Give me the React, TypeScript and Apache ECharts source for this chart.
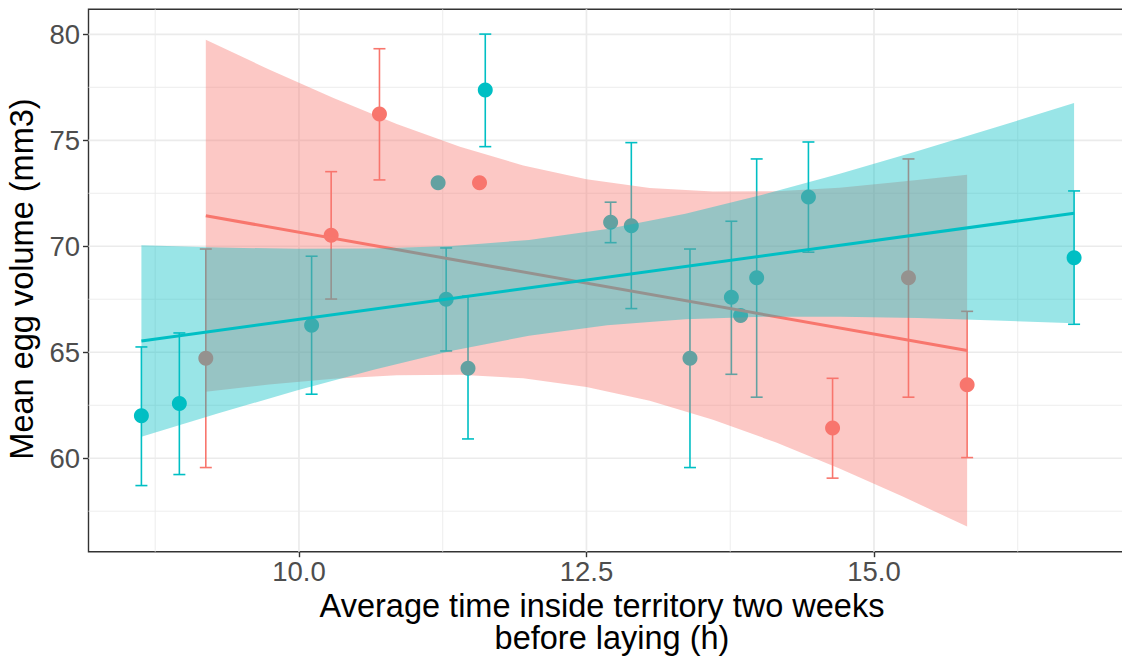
import React, { useEffect, useRef } from "react";
import * as echarts from "echarts";

// ---- axis limits & ticks ----
const X_MIN = 8.17;
const X_MAX = 17.261;
const Y_MIN = 55.59;
const Y_MAX = 81.18;
const xMajor = [10, 12.5, 15];
const xMinor = [8.75, 11.25, 13.75, 16.25];
const yMajor = [60, 65, 70, 75, 80];
const yMinor = [57.5, 62.5, 67.5, 72.5, 77.5];

// ---- red group ----
const redX = [9.19, 10.28, 10.7, 11.57, 14.64, 15.3, 15.81];
const redY = [64.72, 70.52, 76.24, 73.0, 61.43, 68.52, 63.47];
const redLo = [59.56, 67.51, 73.13, null, 59.06, 62.88, 60.03];
const redHi = [69.87, 73.52, 79.32, null, 63.77, 74.12, 66.93];
const redLineX = [9.19, 15.81];
const redLineY = [71.44, 65.08];
const redBandX = [9.19, 9.74, 10.3, 10.85, 11.4, 11.95, 12.5, 13.05, 13.6, 14.15, 14.7, 15.25, 15.81];
const redBandLo = [63.14, 63.48, 63.75, 63.91, 63.94, 63.77, 63.36, 62.71, 61.82, 60.74, 59.52, 58.19, 56.78];
const redBandHi = [79.74, 78.34, 76.99, 75.77, 74.7, 73.81, 73.16, 72.75, 72.58, 72.6, 72.76, 73.05, 73.38];

// ---- cyan group ----
const cyanX = [8.63, 8.96, 10.11, 11.21, 11.28, 11.47, 11.62, 12.71, 12.89, 13.4, 13.76, 13.84, 13.98, 14.43, 16.74];
const cyanY = [62.0, 62.58, 66.27, 73.0, 67.5, 64.25, 77.37, 71.13, 70.97, 64.72, 67.59, 66.73, 68.52, 72.33, 69.46];
const cyanLo = [58.71, 59.23, 63.02, null, 65.06, 60.91, 74.7, 70.17, 67.06, 59.56, 63.96, null, 62.88, 69.72, 66.32];
const cyanHi = [65.25, 65.91, 69.53, null, 69.92, 67.65, 80.01, 72.08, 74.89, 69.87, 71.18, null, 74.12, 74.92, 72.61];
const cyanLineX = [8.63, 16.74];
const cyanLineY = [65.53, 71.56];
const cyanBandX = [8.63, 9.3, 9.98, 10.65, 11.33, 12.0, 12.68, 13.36, 14.03, 14.71, 15.38, 16.06, 16.74];
const cyanBandLo = [61.01, 62.12, 63.2, 64.18, 65.07, 65.78, 66.27, 66.56, 66.67, 66.67, 66.61, 66.5, 66.37];
const cyanBandHi = [70.05, 69.94, 69.88, 69.89, 70.01, 70.3, 70.81, 71.54, 72.43, 73.43, 74.49, 75.61, 76.76];

const RED = "#F8766D";
const CYAN = "#00BFC4";
const FONT = "'Liberation Sans', Arial, sans-serif";

function gridSeries(values: number[], vertical: boolean, width: number) {
  return {
    type: "custom",
    silent: true,
    z: 1,
    data: values.map((v) => [v]),
    renderItem: (params: any, api: any) => {
      const cs = params.coordSys;
      const v = api.value(0);
      if (vertical) {
        const px = api.coord([v, Y_MIN])[0];
        return {
          type: "line",
          shape: { x1: px, y1: cs.y, x2: px, y2: cs.y + cs.height },
          style: { stroke: "#EBEBEB", lineWidth: width },
        };
      }
      const py = api.coord([X_MIN, v])[1];
      return {
        type: "line",
        shape: { x1: cs.x, y1: py, x2: cs.x + cs.width, y2: py },
        style: { stroke: "#EBEBEB", lineWidth: width },
      };
    },
  };
}

function errorSeries(xs: number[], lo: (number | null)[], hi: (number | null)[], color: string) {
  const data: number[][] = [];
  xs.forEach((x, i) => {
    if (lo[i] != null && hi[i] != null) data.push([x, lo[i] as number, hi[i] as number]);
  });
  return {
    type: "custom",
    silent: true,
    z: 2,
    data,
    renderItem: (params: any, api: any) => {
      const x = api.value(0);
      const top = api.coord([x, api.value(2)]);
      const bot = api.coord([x, api.value(1)]);
      const hw = 6;
      const st = { stroke: color, lineWidth: 1.6 };
      return {
        type: "group",
        children: [
          { type: "line", shape: { x1: top[0], y1: top[1], x2: bot[0], y2: bot[1] }, style: st },
          { type: "line", shape: { x1: top[0] - hw, y1: top[1], x2: top[0] + hw, y2: top[1] }, style: st },
          { type: "line", shape: { x1: bot[0] - hw, y1: bot[1], x2: bot[0] + hw, y2: bot[1] }, style: st },
        ],
      };
    },
  };
}

function ribbonSeries(xs: number[], lo: number[], hi: number[], fill: string, z: number) {
  return {
    type: "custom",
    silent: true,
    z,
    data: xs.map((x, i) => [x, lo[i], hi[i]]),
    renderItem: (params: any, api: any) => {
      if (params.dataIndex !== 0) return null;
      const pts: number[][] = [];
      for (let i = 0; i < xs.length; i++) pts.push(api.coord([xs[i], hi[i]]));
      for (let i = xs.length - 1; i >= 0; i--) pts.push(api.coord([xs[i], lo[i]]));
      return { type: "polygon", shape: { points: pts }, style: { fill } };
    },
  };
}

function pointSeries(xs: number[], ys: number[], color: string) {
  return {
    type: "scatter",
    silent: true,
    z: 3,
    symbolSize: 15,
    itemStyle: { color, opacity: 1 },
    data: xs.map((x, i) => [x, ys[i]]),
  };
}

function lineSeries(xs: number[], ys: number[], color: string, z: number) {
  return {
    type: "line",
    silent: true,
    z,
    symbol: "none",
    showSymbol: false,
    lineStyle: { color, width: 3 },
    data: xs.map((x, i) => [x, ys[i]]),
  };
}

export default function App() {
  const ref = useRef<HTMLDivElement>(null);
  useEffect(() => {
    const chart = echarts.init(ref.current!, null, { renderer: "svg" });
    const titleFont = `32.5px ${FONT}`;
    const option: any = {
      animation: false,
      backgroundColor: "#FFFFFF",
      grid: {
        left: 88.5,
        top: 9.3,
        right: 16,
        bottom: 110.3,
        show: true,
        borderColor: "#333333",
        borderWidth: 1.4,
        containLabel: false,
      },
      xAxis: {
        type: "value",
        min: X_MIN,
        max: X_MAX,
        axisLine: { show: false },
        splitLine: { show: false },
        axisTick: {
          show: true,
          customValues: xMajor,
          length: 5.5,
          lineStyle: { color: "#333333", width: 1.4 },
        },
        axisLabel: {
          customValues: xMajor,
          formatter: (v: number) => v.toFixed(1),
          color: "#4D4D4D",
          fontSize: 27.5,
          fontFamily: FONT,
          margin: 6,
        },
      },
      yAxis: {
        type: "value",
        min: Y_MIN,
        max: Y_MAX,
        axisLine: { show: false },
        splitLine: { show: false },
        axisTick: {
          show: true,
          customValues: yMajor,
          length: 5.5,
          lineStyle: { color: "#333333", width: 1.4 },
        },
        axisLabel: {
          customValues: yMajor,
          formatter: (v: number) => String(v),
          color: "#4D4D4D",
          fontSize: 27.5,
          fontFamily: FONT,
          margin: 8.5,
        },
      },
      graphic: [
        {
          type: "text",
          x: 22,
          y: 279,
          rotation: Math.PI / 2,
          style: {
            text: "Mean egg volume (mm3)",
            font: titleFont,
            fill: "#000000",
            textAlign: "center",
            textVerticalAlign: "middle",
          },
        },
        {
          type: "text",
          x: 607,
          y: 622,
          style: {
            text: "{a|Average time inside territory two weeks}\n{b|before laying (h)}",
            font: titleFont,
            fill: "#000000",
            textAlign: "center",
            textVerticalAlign: "middle",
            rich: {
              a: { font: titleFont, fill: "#000000", lineHeight: 32, padding: [0, 10, 0, 0] },
              b: { font: titleFont, fill: "#000000", lineHeight: 32, padding: [0, 0, 0, 10] },
            },
          },
        },
      ],
      series: [
        gridSeries(xMinor, true, 0.9),
        gridSeries(yMinor, false, 0.9),
        gridSeries(xMajor, true, 1.7),
        gridSeries(yMajor, false, 1.7),
        errorSeries(redX, redLo, redHi, RED),
        errorSeries(cyanX, cyanLo, cyanHi, CYAN),
        pointSeries(redX, redY, RED),
        pointSeries(cyanX, cyanY, CYAN),
        ribbonSeries(redBandX, redBandLo, redBandHi, "rgba(248,118,109,0.4)", 4),
        lineSeries(redLineX, redLineY, RED, 5),
        ribbonSeries(cyanBandX, cyanBandLo, cyanBandHi, "rgba(0,191,196,0.4)", 6),
        lineSeries(cyanLineX, cyanLineY, CYAN, 7),
      ],
    };
    chart.setOption(option);
    return () => chart.dispose();
  }, []);
  return (
    <div
      style={{
        position: "absolute",
        left: 0,
        top: 0,
        width: 1122,
        height: 662,
        overflow: "hidden",
        background: "#FFFFFF",
      }}
    >
      <div ref={ref} style={{ width: 1150, height: 662 }} />
    </div>
  );
}
